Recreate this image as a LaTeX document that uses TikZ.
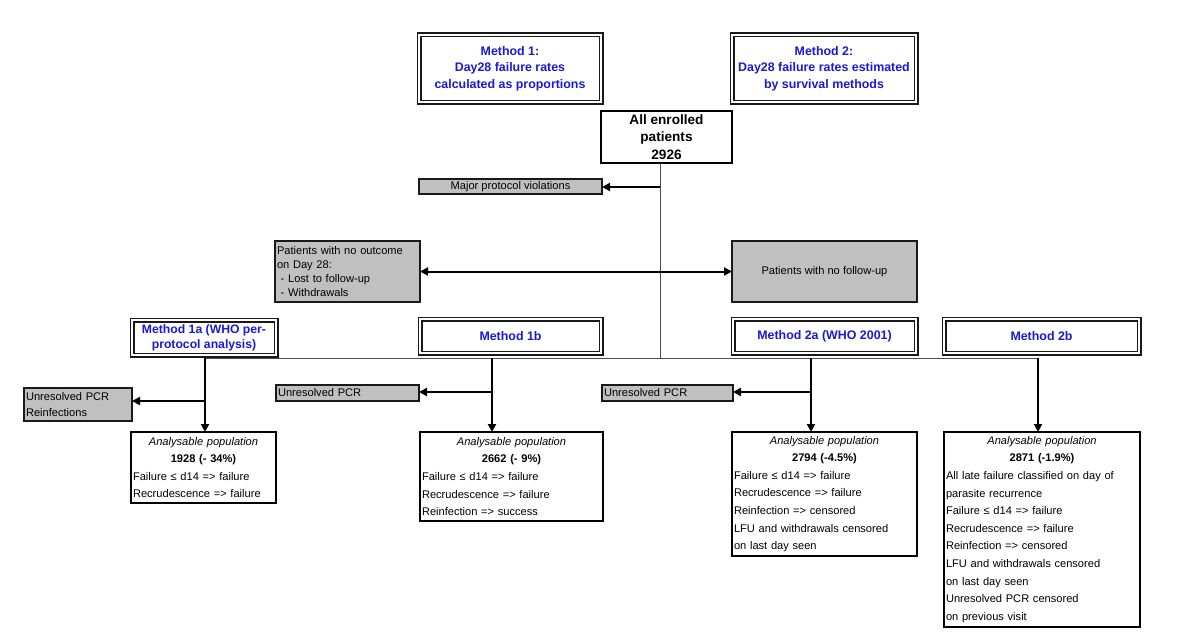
\documentclass[tikz,border=0pt]{standalone}
\usepackage{fontspec}
\setmainfont{Liberation Sans}
\usetikzlibrary{arrows.meta}
\definecolor{mblue}{RGB}{25,25,215}
\definecolor{gfill}{RGB}{192,192,192}
\begin{document}
\begin{tikzpicture}[x=1pt,y=-1pt,
  every node/.style={inner sep=0pt, outer sep=0pt},
  dbox/.style={draw=black!90, double=white, double distance=1.8pt, line width=1.6pt, fill=white,
     anchor=north west, align=center, text=mblue, font=\fontsize{12.4}{16.7}\selectfont\bfseries},
  gbox/.style={draw=black!90, line width=1.7pt, fill=gfill, anchor=north west, inner xsep=2pt,
     font=\fontsize{11.1}{14}\selectfont},
  abox/.style={draw=black, line width=1.8pt, fill=white, anchor=north west, inner xsep=2pt,
     font=\fontsize{11.1}{17.6}\selectfont},
  thinline/.style={draw=black!70, line width=1pt},
  arr/.style={draw=black, line width=2.2pt, -{Triangle[length=8pt,width=8pt]}},
  darr/.style={draw=black, line width=2pt, {Triangle[length=8pt,width=8pt]}-{Triangle[length=8pt,width=8pt]}}]
\useasboundingbox (0,0) rectangle (1200,642);

% top method boxes
\node[dbox, minimum width=182pt, minimum height=67pt] (m1) at (419,35)
  {Method 1:\\Day28 failure rates\\calculated as proportions};
\node[dbox, minimum width=184pt, minimum height=67pt] (m2) at (732,35)
  {Method 2:\\Day28 failure rates estimated\\by survival methods};

% all enrolled
\node[draw=black, line width=1.8pt, fill=white, anchor=north west, minimum width=131pt, minimum height=52pt,
  align=center, font=\fontsize{13.6}{17.5}\selectfont\bfseries] (all) at (601,111)
  {All enrolled\\patients\\2926};

% grey exclusion boxes
\node[gbox, minimum width=183pt, minimum height=15pt, align=center] (mpv) at (419,179)
  {Major protocol violations};
\node[gbox, minimum width=145pt, minimum height=61pt, text width=141pt, align=left] (pno) at (275,241)
  {Patients with no outcome\\on Day 28:\\\ - Lost to follow-up\\\ - Withdrawals};
\node[gbox, minimum width=185pt, minimum height=61pt, align=center] (pnf) at (732,241)
  {Patients with no follow-up};

% second-row method boxes
\node[dbox, minimum width=144pt, minimum height=35pt, font=\fontsize{12.2}{15.3}\selectfont\bfseries] (m1a) at (132,320)
  {Method 1a (WHO per-\\protocol analysis)};
\node[dbox, minimum width=181pt, minimum height=34pt] (m1b) at (420,319) {Method 1b};
\node[dbox, minimum width=183pt, minimum height=34pt] (m2a) at (733,319) {Method 2a (WHO 2001)};
\node[dbox, minimum width=195pt, minimum height=34pt] (m2b) at (944,319) {Method 2b};

% unresolved PCR boxes
\node[gbox, minimum width=108pt, minimum height=33pt, text width=104pt, align=left,
  font=\fontsize{11.1}{16.5}\selectfont] (u1a) at (24,388)
  {Unresolved PCR\\Reinfections};
\node[gbox, minimum width=143pt, minimum height=16pt, text width=139pt, align=left] (u1b) at (276,385)
  {Unresolved PCR};
\node[gbox, minimum width=131pt, minimum height=16pt, text width=127pt, align=left] (u2a) at (602,385)
  {Unresolved PCR};

% analysable population boxes
\node[abox, minimum width=145pt, minimum height=71pt, text width=141pt] (a1a) at (131,432)
  {{\centering\itshape Analysable population\par}%
   {\centering\bfseries 1928 (- 34\%)\par}%
   Failure ≤ d14 => failure\\Recrudescence => failure};
\node[abox, minimum width=183pt, minimum height=89pt, text width=179pt] (a1b) at (420,432)
  {{\centering\itshape Analysable population\par}%
   {\centering\bfseries 2662 (- 9\%)\par}%
   Failure ≤ d14 => failure\\Recrudescence => failure\\Reinfection => success};
\node[abox, minimum width=185pt, minimum height=124pt, text width=181pt] (a2a) at (732,432)
  {{\centering\itshape Analysable population\par}%
   {\centering\bfseries 2794 (-4.5\%)\par}%
   Failure ≤ d14 => failure\\Recrudescence => failure\\Reinfection => censored\\LFU and withdrawals censored\\on last day seen};
\node[abox, minimum width=196pt, minimum height=195pt, text width=192pt] (a2b) at (944,432)
  {{\centering\itshape Analysable population\par}%
   {\centering\bfseries 2871 (-1.9\%)\par}%
   All late failure classified on day of\\parasite recurrence\\Failure ≤ d14 => failure\\Recrudescence => failure\\Reinfection => censored\\LFU and withdrawals censored\\on last day seen\\Unresolved PCR censored\\on previous visit};

% coordinates
\coordinate (tj) at (660,358);
\coordinate (hl) at (205,358);
\coordinate (hr) at (1038,358);
\coordinate (b1b) at (492,358);
\coordinate (b2a) at (811,358);
\coordinate (jm) at (660,187);
\coordinate (s1a) at (205,401);
\coordinate (s1b) at (492,392);
\coordinate (s2a) at (811,392);

% trunk
\draw[thinline] (all.south -| tj) -- (tj);
\draw[thinline] (hl) -- (hr);
\draw[arr] (jm) -- (jm -| mpv.east);
\draw[darr] (pno.east) -- (pnf.west);

% branches
\draw[arr] (hl) -- (hl |- a1a.north);
\draw[arr] (b1b) -- (b1b |- a1b.north);
\draw[arr] (b2a) -- (b2a |- a2a.north);
\draw[arr] (hr) -- (hr |- a2b.north);
\draw[arr] (s1a) -- (s1a -| u1a.east);
\draw[arr] (s1b) -- (s1b -| u1b.east);
\draw[arr] (s2a) -- (s2a -| u2a.east);
\end{tikzpicture}
\end{document}
